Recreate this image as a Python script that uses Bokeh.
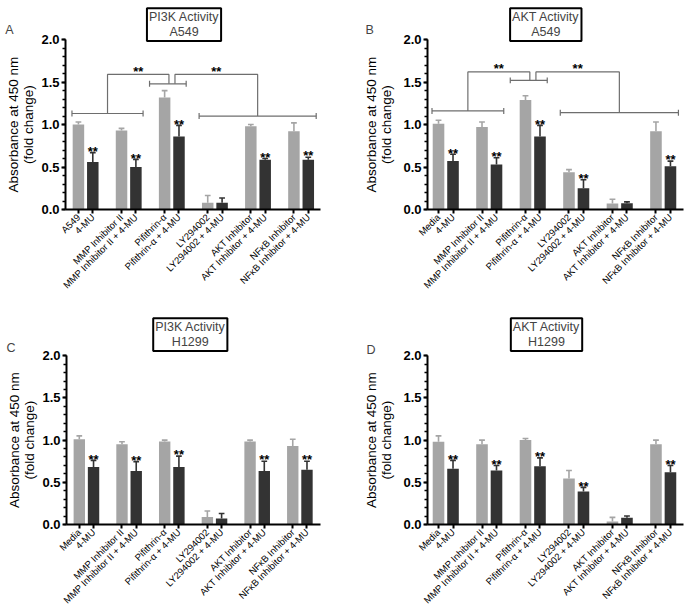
import math
from bokeh.plotting import figure
from bokeh.layouts import row, column
from bokeh.models import Range1d, FixedTicker, Label, ColumnDataSource, PrintfTickFormatter
from bokeh.embed import file_html
from bokeh.resources import INLINE
from bokeh.core.properties import value

FONT = "Liberation Sans"

positions = [0, 1, 3, 4, 6, 7, 9, 10, 12, 13, 15, 16]

labels_A = ["A549", "4-MU", "MMP Inhibitor II", "MMP Inhibitor II + 4-MU",
            "Pifithrin-α", "Pifithrin-α + 4-MU", "LY294002", "LY294002 + 4-MU",
            "AKT Inhibitor", "AKT Inhibitor + 4-MU", "NFκB Inhibitor", "NFκB Inhibitor + 4-MU"]
labels_other = ["Media", "4-MU", "MMP Inhibitor II", "MMP Inhibitor II + 4-MU",
                "Pifithrin-α", "Pifithrin-α + 4-MU", "LY294002", "LY294002 + 4-MU",
                "AKT Inhibitor", "AKT Inhibitor + 4-MU", "NFκB Inhibitor", "NFκB Inhibitor + 4-MU"]

mean_A = [1.00, 0.56, 0.93, 0.50, 1.32, 0.86, 0.08, 0.08, 0.98, 0.585, 0.92, 0.585]
err_A = [0.03, 0.11, 0.025, 0.09, 0.08, 0.13, 0.085, 0.055, 0.02, 0.015, 0.10, 0.03]
sig_A = [0, 1, 0, 1, 0, 1, 0, 0, 0, 1, 0, 1]

mean_B = [1.01, 0.57, 0.97, 0.53, 1.29, 0.86, 0.44, 0.25, 0.07, 0.075, 0.92, 0.51]
err_B = [0.04, 0.08, 0.06, 0.08, 0.05, 0.13, 0.03, 0.10, 0.05, 0.015, 0.11, 0.06]
sig_B = [0, 1, 0, 1, 0, 1, 0, 1, 0, 0, 0, 1]

mean_C = [1.01, 0.68, 0.95, 0.635, 0.985, 0.68, 0.09, 0.07, 0.985, 0.635, 0.93, 0.65]
err_C = [0.04, 0.08, 0.03, 0.11, 0.015, 0.13, 0.07, 0.06, 0.015, 0.115, 0.08, 0.10]
sig_C = [0, 1, 0, 1, 0, 1, 0, 0, 0, 1, 0, 1]

mean_D = [0.98, 0.66, 0.95, 0.64, 1.00, 0.69, 0.545, 0.39, 0.035, 0.08, 0.95, 0.62]
err_D = [0.07, 0.10, 0.05, 0.06, 0.02, 0.10, 0.095, 0.05, 0.05, 0.02, 0.05, 0.08]
sig_D = [0, 1, 0, 1, 0, 1, 0, 1, 0, 0, 0, 1]

titles = ["PI3K Activity\nA549", "AKT Activity\nA549", "PI3K Activity\nH1299", "AKT Activity\nH1299"]
letters = ["A", "B", "C", "D"]
y_label = "Absorbance at 450 nm\n(fold change)"

LIGHT = "#a5a5a5"
DARK = "#333333"
BRACKET = "#6e6e6e"


def make_panel(labels, means, errs, sig, title, letter, brackets, lay):
    w, h, bl, br, bt, bb = lay["w"], lay["h"], lay["bl"], lay["br"], lay["bt"], lay["bb"]
    x0, x1, ymax = lay["x0"], lay["x1"], lay["ymax"]
    p = figure(width=w, height=h, x_range=Range1d(x0, x1), y_range=Range1d(0, ymax),
               output_backend="svg", toolbar_location=None,
               min_border_left=bl, min_border_right=br, min_border_top=bt, min_border_bottom=bb)
    p.outline_line_color = None
    p.grid.visible = False
    p.background_fill_color = "white"

    fw = w - bl - br
    fh = h - bt - bb
    pxu = fw / (x1 - x0)
    pyu = fh / ymax

    colors = [LIGHT if i % 2 == 0 else DARK for i in range(len(means))]
    ups = [m + e for m, e in zip(means, errs)]
    src = ColumnDataSource(dict(x=positions, top=means, up=ups, color=colors,
                                cl=[x - 0.2 for x in positions], cr=[x + 0.2 for x in positions]))
    p.vbar(x="x", top="top", width=0.8, fill_color="color", line_color=None, source=src)
    p.segment(x0="x", y0="top", x1="x", y1="up", line_color="color", line_width=1.6, source=src)
    p.segment(x0="cl", y0="up", x1="cr", y1="up", line_color="color", line_width=1.6, source=src)

    sx = [x for x, s in zip(positions, sig) if s]
    sy = [u + 0.015 for u, s in zip(ups, sig) if s]
    p.text(x=sx, y=sy, text=["**"] * len(sx), text_align="center", text_baseline="alphabetic",
           text_font=value(FONT), text_font_size="13px", text_font_style="bold", text_color="black")

    if brackets is not None:
        yl, ym, yr, ytop = brackets
        lx0, lx1 = positions[0] - 0.45, positions[3] + 0.5
        mx0, mx1 = positions[4] - 1.05, positions[5] + 0.5
        rx0, rx1 = positions[6] - 0.6, positions[11] + 0.55
        lc = (lx0 + lx1) / 2
        rc = (rx0 + rx1) / 2
        mc = (positions[4] + positions[5]) / 2
        il, ir = mc - 0.2, mc + 0.22
        t = 0.035
        xs = [[lx0, lx1], [mx0, mx1], [rx0, rx1],
              [lx0, lx0], [lx1, lx1], [mx0, mx0], [mx1, mx1], [rx0, rx0], [rx1, rx1],
              [lc, lc, il, il], [rc, rc, ir, ir]]
        ys = [[yl, yl], [ym, ym], [yr, yr],
              [yl - t, yl + t], [yl - t, yl + t], [ym - t, ym + t], [ym - t, ym + t],
              [yr - t, yr + t], [yr - t, yr + t],
              [yl, ytop, ytop, ym], [yr, ytop, ytop, ym]]
        p.multi_line(xs=xs, ys=ys, line_color=BRACKET, line_width=1.2)
        p.text(x=[(lc + il) / 2, (rc + ir) / 2], y=[ytop + 0.035, ytop + 0.035], text=["**", "**"],
               text_align="center", text_baseline="alphabetic",
               text_font=value(FONT), text_font_size="13px", text_font_style="bold", text_color="black")

    # axes
    p.yaxis.bounds = (0, 2)
    p.yaxis.ticker = FixedTicker(ticks=[0, 0.5, 1.0, 1.5, 2.0], minor_ticks=[i / 10 for i in range(21)])
    p.yaxis.formatter = PrintfTickFormatter(format="%.1f")
    p.yaxis.axis_line_width = 2
    p.yaxis.major_tick_line_width = 2
    p.yaxis.minor_tick_line_width = 1.5
    p.yaxis.major_tick_out = 4
    p.yaxis.major_tick_in = 0
    p.yaxis.minor_tick_out = 3
    p.yaxis.minor_tick_in = 0
    p.yaxis.major_label_standoff = 2
    p.yaxis.major_label_text_font = FONT
    p.yaxis.major_label_text_font_size = "13px"
    p.yaxis.major_label_text_font_style = "bold"
    p.yaxis.major_label_text_color = "black"

    p.xaxis.ticker = FixedTicker(ticks=positions)
    p.xaxis.major_label_overrides = {pos: lab for pos, lab in zip(positions, labels)}
    p.xaxis.major_label_orientation = math.pi / 4
    p.xaxis.axis_line_width = 2
    p.xaxis.major_tick_line_width = 2
    p.xaxis.major_tick_out = 4
    p.xaxis.major_tick_in = 0
    p.xaxis.minor_tick_line_color = None
    p.xaxis.major_label_standoff = 2
    p.xaxis.major_label_text_font = FONT
    p.xaxis.major_label_text_font_size = "9.5px"
    p.xaxis.major_label_text_color = "black"

    # y axis title, centred on the 0-2 axis span (side panel => not clipped)
    p.add_layout(Label(x=x0 - lay["yx"] / pxu, y=1.0, text=y_label, angle=math.pi / 2,
                       text_align="center", text_baseline="middle", text_font=FONT,
                       text_font_size="13.5px", text_line_height=1.0, text_color="black"), "left")
    # panel letter
    p.add_layout(Label(x=x0 - lay["lx"] / pxu, y=(fh - lay["ly"]) / pyu, text=letter,
                       text_align="left", text_baseline="middle", text_font=FONT,
                       text_font_size="12.5px"), "left")
    # title box
    p.add_layout(Label(x=lay["tx"], y=ymax - 0.02, text=title, text_align="center", text_baseline="top",
                       text_font=FONT, text_font_size="12.5px", text_line_height=1.05,
                       border_line_color="black", border_line_width=2,
                       background_fill_color="white", padding=2))
    return p


lay_A = dict(w=340, h=306, bl=62, br=20, bt=6, bb=97, x0=-0.9, x1=16.85, ymax=2.39,
             tx=7.35, lx=61, ly=23, yx=45)
lay_B = dict(w=344, h=306, bl=87, br=1, bt=6, bb=97, x0=-0.76, x1=16.9, ymax=2.39,
             tx=7.4, lx=62, ly=23, yx=49)
lay_C = dict(w=340, h=306, bl=62, br=20, bt=10, bb=85, x0=-0.9, x1=16.95, ymax=2.465,
             tx=7.8, lx=61, ly=32, yx=45)
lay_D = dict(w=344, h=306, bl=87, br=1, bt=10, bb=85, x0=-0.76, x1=16.9, ymax=2.465,
             tx=7.45, lx=61, ly=34, yx=49)

pA = make_panel(labels_A, mean_A, err_A, sig_A, titles[0], letters[0], (1.13, 1.48, 1.10, 1.59), lay_A)
pB = make_panel(labels_other, mean_B, err_B, sig_B, titles[1], letters[1], (1.16, 1.52, 1.14, 1.62), lay_B)
pC = make_panel(labels_other, mean_C, err_C, sig_C, titles[2], letters[2], None, lay_C)
pD = make_panel(labels_other, mean_D, err_D, sig_D, titles[3], letters[3], None, lay_D)

layout = column(row(pA, pB), row(pC, pD))
open("out.html", "w").write(file_html(layout, INLINE))
